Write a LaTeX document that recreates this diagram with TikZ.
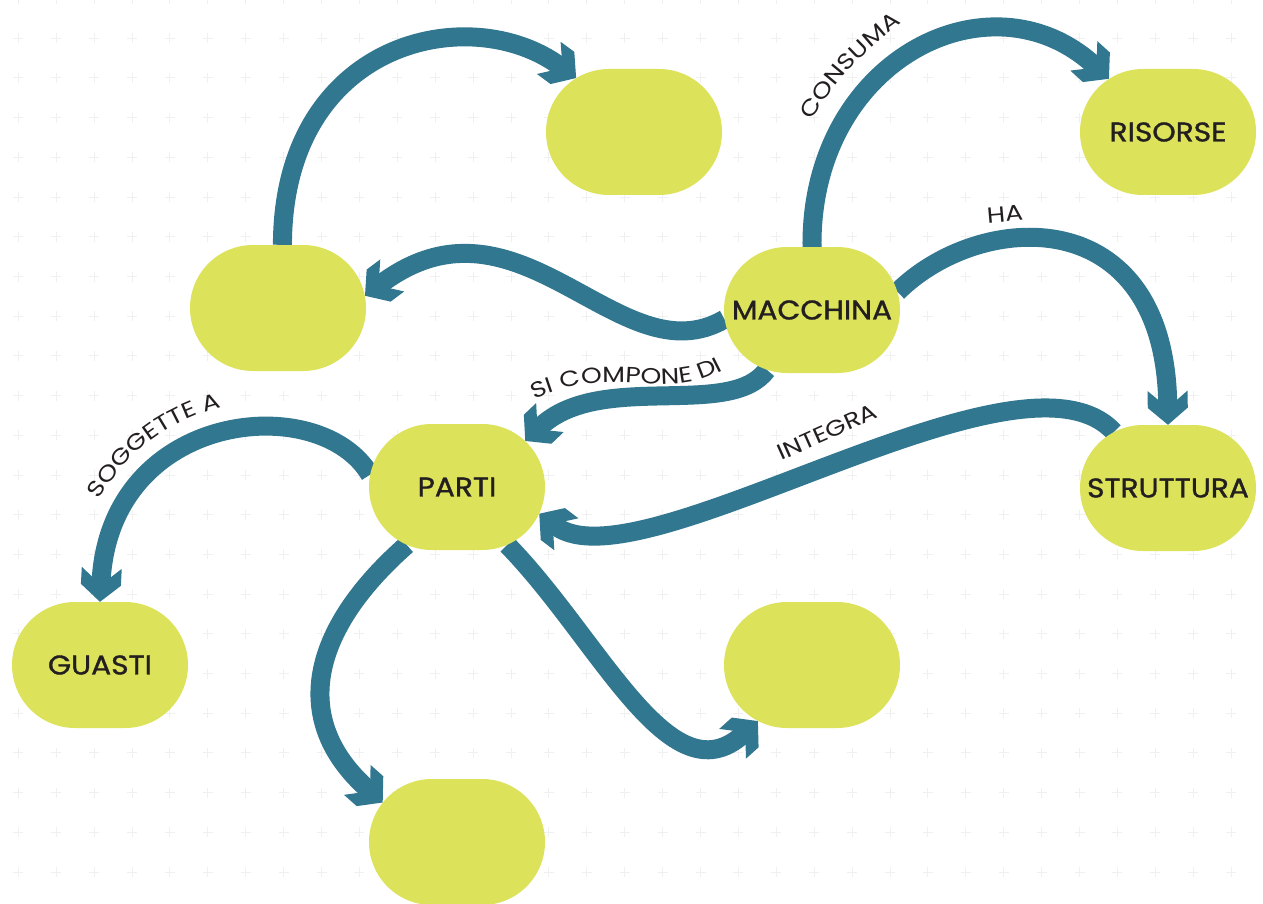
\documentclass[tikz,border=0pt]{standalone}
\usepackage{fontspec}
\setmainfont{Poppins}
\newfontfamily\nodefont[FakeBold=1.2,FakeStretch=1.1]{Poppins}
\newfontfamily\lblfam[FakeStretch=1.2]{Poppins}
\newcommand{\lblfont}{\lblfam\fontsize{22}{26}\selectfont}
\usetikzlibrary{arrows.meta,shapes.misc,decorations.text}
\definecolor{nodefill}{HTML}{DCE35A}
\definecolor{edgecol}{HTML}{31778F}
\definecolor{txt}{HTML}{231F20}
\definecolor{gridcol}{HTML}{F0F0F0}
\pgfdeclarearrow{
  name = Chevron,
  setup code = {
    \pgfarrowssettipend{0pt}
    \pgfarrowssetlineend{-20pt}
    \pgfarrowssetvisualbackend{-34pt}
    \pgfarrowshullpoint{0pt}{0pt}
    \pgfarrowshullpoint{-34pt}{20pt}
    \pgfarrowshullpoint{-34pt}{-20pt}
  },
  drawing code = {
    \pgfpathmoveto{\pgfqpoint{0pt}{0pt}}
    \pgfpathlineto{\pgfqpoint{-17pt}{20pt}}
    \pgfpathlineto{\pgfqpoint{-34pt}{20pt}}
    \pgfpathlineto{\pgfqpoint{-22pt}{6pt}}
    \pgfpathlineto{\pgfqpoint{-22pt}{-6pt}}
    \pgfpathlineto{\pgfqpoint{-34pt}{-20pt}}
    \pgfpathlineto{\pgfqpoint{-17pt}{-20pt}}
    \pgfpathclose
    \pgfusepathqfill
  }
}
\pgfdeclarelayer{gridlayer}
\pgfdeclarelayer{edgelayer}
\pgfsetlayers{gridlayer,edgelayer,main}
\tikzset{
  concept/.style={rounded rectangle, fill=nodefill, draw=none,
    minimum width=176pt, minimum height=126pt, inner sep=0pt},
  ctext/.style={text=txt, inner sep=0pt, font=\nodefont\fontsize{27}{31}\selectfont},
  link/.style={draw=edgecol, line width=19pt, -{Chevron}},
  lbl/.style={text=txt, inner sep=0pt, font=\lblfont},
  pathlbl/.style={decorate, decoration={text along path, text align=center,
    text color=txt, text={|\lblfont|#1}}},
  gridmark/.style={draw=gridcol, line width=1pt}
}
\begin{document}
\begin{tikzpicture}[x=1pt,y=-1pt]
\useasboundingbox (0,0) rectangle (1263,904);
% background and grid of crosses
\begin{pgfonlayer}{gridlayer}
\fill[white] (0,0) rectangle (1263,904);
\foreach \i in {0,...,33} {
  \foreach \j in {0,...,23} {
    \path[gridmark] ({18.3+37.9*\i-5},{-1.4+39.7*\j}) -- ++(10,0)
      ({18.3+37.9*\i},{-1.4+39.7*\j-5}) -- ++(0,10);
  }
}
\end{pgfonlayer}
% nodes
\node[concept] (top) at (634,132) {};
\node[concept] (ris) at (1168,132) {};
\node[ctext] (risT) at (ris) {RISORSE};
\node[concept] (lft) at (278,308) {};
\node[concept] (mac) at (812,310) {};
\node[ctext] (macT) at (mac) {MACCHINA};
\node[concept] (par) at (457,487) {};
\node[ctext] (parT) at (par) {PARTI};
\node[concept] (str) at (1168,488) {};
\node[ctext] (strT) at (str) {STRUTTURA};
\node[concept] (gua) at (100,665) {};
\node[ctext] (guaT) at (gua) {GUASTI};
\node[concept] (brt) at (812,665) {};
\node[concept] (bot) at (457,842) {};
% connectors
\begin{pgfonlayer}{edgelayer}
\draw[link] (lft.86) .. controls (283,40) and (470,0) .. (top.137);
\draw[link] (mac.north) .. controls (810,60) and (990,-30) .. (ris.138);
\draw[link] (mac.186) .. controls (620,380) and (520,180) .. (lft.8);
\draw[link] (mac.12) .. controls (980,210) and (1165,200) .. (str.north);
\draw[link] (mac.233) .. controls (730,420) and (600,370) .. (par.34);
\draw[link] (par.172) .. controls (320,390) and (110,410) .. (gua.north);
\draw[link] (str.134) .. controls (1020,330) and (640,590) .. (par.342);
\draw[link] (par.229) .. controls (310,630) and (290,720) .. (bot.152);
\draw[link] (par.311) .. controls (600,640) and (670,800) .. (brt.226);
\end{pgfonlayer}
% labels
\path[pathlbl={CONSUMA}] (800,142) .. controls (828,88) and (865,45) .. (922,10);
\path[pathlbl={SOGGETTE A}] (80,536) .. controls (112,462) and (165,410) .. (262,400);
\path[pathlbl={SI COMPONE DI}] (505,418) .. controls (545,386) and (590,381) .. (630,383)
  .. controls (670,385) and (705,390) .. (752,350);
\node[lbl, rotate=5] (ha) at (1005,214) {HA};
\node[lbl, rotate=24] (integra) at (827,432) {INTEGRA};
\end{tikzpicture}
\end{document}
